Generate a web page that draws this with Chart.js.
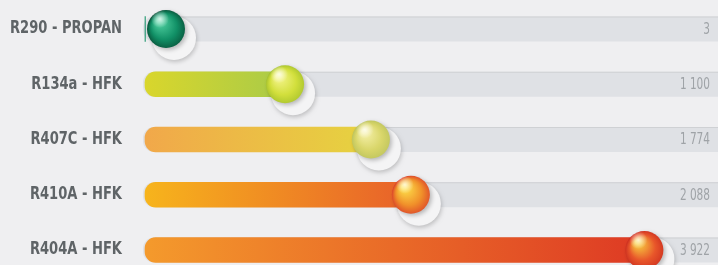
<!DOCTYPE html>
<html>
<head>
<meta charset="utf-8">
<script src="https://cdn.jsdelivr.net/npm/chart.js@4"></script>
<style>
  body { margin: 0; background: #efeff1; }
  #wrap { width: 718px; height: 265px; position: relative; }
</style>
</head>
<body>
<div id="wrap"><canvas id="gwp"></canvas></div>
<script>
// refrigerants and their GWP values
const categories = ['R290 - PROPAN', 'R134a - HFK', 'R407C - HFK', 'R410A - HFK', 'R404A - HFK'];
const gwpValues = [3, 1100, 1774, 2088, 3922];
const valueLabels = ['3', '1 100', '1 774', '2 088', '3 922'];

// bar gradient start/end + ball colours (light, main, dark)
const barStart = ['#119066', '#d9d62c', '#f1a84a', '#f7b41c', '#f49a2c'];
const barEnd   = ['#119066', '#a9cb48', '#e6d340', '#e8602a', '#de3a24'];
const ballCols = [
  ['#4fd0a0', '#119066', '#06452f'],
  ['#f4f48a', '#d2df3c', '#9fbd2a'],
  ['#f5f0a8', '#d9d66a', '#b8c05a'],
  ['#fde04a', '#f0902a', '#d8342a'],
  ['#f8d040', '#e8562a', '#c8281e']
];

const FONT = "'DejaVu Sans Condensed', 'DejaVu Sans', sans-serif";

const trackPlugin = {
  id: 'track',
  beforeDatasetsDraw(chart) {
    const { ctx, chartArea, scales } = chart;
    ctx.save();
    categories.forEach((c, i) => {
      const y = scales.y.getPixelForValue(i);
      const x0 = chartArea.left - 2;
      const w = chart.width - x0 + 10;
      ctx.fillStyle = '#dfe1e5';
      ctx.beginPath();
      ctx.roundRect(x0, y - 12.5, w, 25, [11, 0, 0, 11]);
      ctx.fill();
      ctx.fillStyle = '#cfd1d4';
      ctx.fillRect(x0 + 10, y - 12.5, w, 1);
    });
    ctx.restore();
  }
};

// category labels, drawn condensed
const labelPlugin = {
  id: 'labels',
  afterDraw(chart) {
    const { ctx, scales } = chart;
    ctx.save();
    ctx.font = 'bold 17px ' + FONT;
    const sx = 112 / ctx.measureText(categories[0]).width;
    ctx.fillStyle = '#5f6467';
    ctx.textAlign = 'right';
    ctx.textBaseline = 'middle';
    categories.forEach((c, i) => {
      const y = scales.y.getPixelForValue(i);
      ctx.save();
      ctx.translate(122, y);
      ctx.scale(sx, 1);
      ctx.fillText(scales.y.getLabelForValue(i), 0, 0);
      ctx.restore();
    });
    ctx.restore();
  }
};

const ballPlugin = {
  id: 'balls',
  afterDatasetsDraw(chart) {
    const { ctx, chartArea } = chart;
    const meta = chart.getDatasetMeta(0);
    ctx.save();
    meta.data.forEach((bar, i) => {
      const r = 19;
      const cx = Math.max(bar.x, chartArea.left + r + 2);
      const cy = bar.y;
      // soft halo underneath
      ctx.save();
      ctx.shadowColor = 'rgba(0,0,0,0.2)';
      ctx.shadowBlur = 4;
      ctx.shadowOffsetX = 1;
      ctx.shadowOffsetY = 2;
      ctx.fillStyle = '#f4f4f5';
      ctx.beginPath();
      ctx.arc(cx + 8, cy + 9, 22, 0, Math.PI * 2);
      ctx.fill();
      ctx.restore();
      // ball
      const g = ctx.createRadialGradient(cx - 7, cy - 8, 2, cx + 2, cy + 2, r + 3);
      g.addColorStop(0, ballCols[i][0]);
      g.addColorStop(0.55, ballCols[i][1]);
      g.addColorStop(1, ballCols[i][2]);
      ctx.save();
      ctx.shadowColor = 'rgba(0,0,0,0.25)';
      ctx.shadowBlur = 4;
      ctx.shadowOffsetX = 2;
      ctx.shadowOffsetY = 2;
      ctx.fillStyle = g;
      ctx.beginPath();
      ctx.arc(cx, cy, r, 0, Math.PI * 2);
      ctx.fill();
      ctx.restore();
      // highlight
      const h = ctx.createRadialGradient(cx - 6, cy - 10, 0, cx - 6, cy - 10, 9);
      h.addColorStop(0, 'rgba(255,255,255,0.75)');
      h.addColorStop(1, 'rgba(255,255,255,0)');
      ctx.fillStyle = h;
      ctx.beginPath();
      ctx.arc(cx - 6, cy - 10, 9, 0, Math.PI * 2);
      ctx.fill();
    });
    // value text on the right
    ctx.font = '15px ' + FONT;
    ctx.fillStyle = '#9fa3a7';
    ctx.textBaseline = 'middle';
    ctx.textAlign = 'right';
    meta.data.forEach((bar, i) => {
      ctx.save();
      ctx.translate(chart.width - 8, bar.y + 1);
      ctx.scale(0.78, 1);
      ctx.fillText(valueLabels[i], 0, 0);
      ctx.restore();
    });
    ctx.restore();
  }
};

new Chart(document.getElementById('gwp'), {
  type: 'bar',
  data: {
    labels: categories,
    datasets: [{
      data: gwpValues,
      clip: false,
      barThickness: 25,
      borderSkipped: false,
      borderRadius: { topLeft: 11, bottomLeft: 11, topRight: 0, bottomRight: 0 },
      backgroundColor: (c) => {
        const chart = c.chart;
        const i = c.dataIndex;
        if (!chart.chartArea || i === undefined) return barStart[i] || '#ccc';
        const x0 = chart.chartArea.left;
        const x1 = chart.scales.x.getPixelForValue(gwpValues[i]);
        const g = chart.ctx.createLinearGradient(x0, 0, Math.max(x1, x0 + 1), 0);
        g.addColorStop(0, barStart[i]);
        g.addColorStop(1, barEnd[i]);
        return g;
      }
    }]
  },
  options: {
    indexAxis: 'y',
    responsive: true,
    maintainAspectRatio: false,
    animation: false,
    layout: { padding: { top: 29, bottom: 15, left: 0, right: 0 } },
    plugins: { legend: { display: false }, tooltip: { enabled: false } },
    scales: {
      x: { display: false, min: 0, max: 4500 },
      y: {
        offset: false,
        border: { display: false },
        grid: { display: false, drawTicks: false },
        ticks: { display: false },
        afterFit: (s) => { s.width = 145; s.paddingTop = 0; s.paddingBottom = 0; }
      }
    }
  },
  plugins: [trackPlugin, ballPlugin, labelPlugin]
});
</script>
</body>
</html>
